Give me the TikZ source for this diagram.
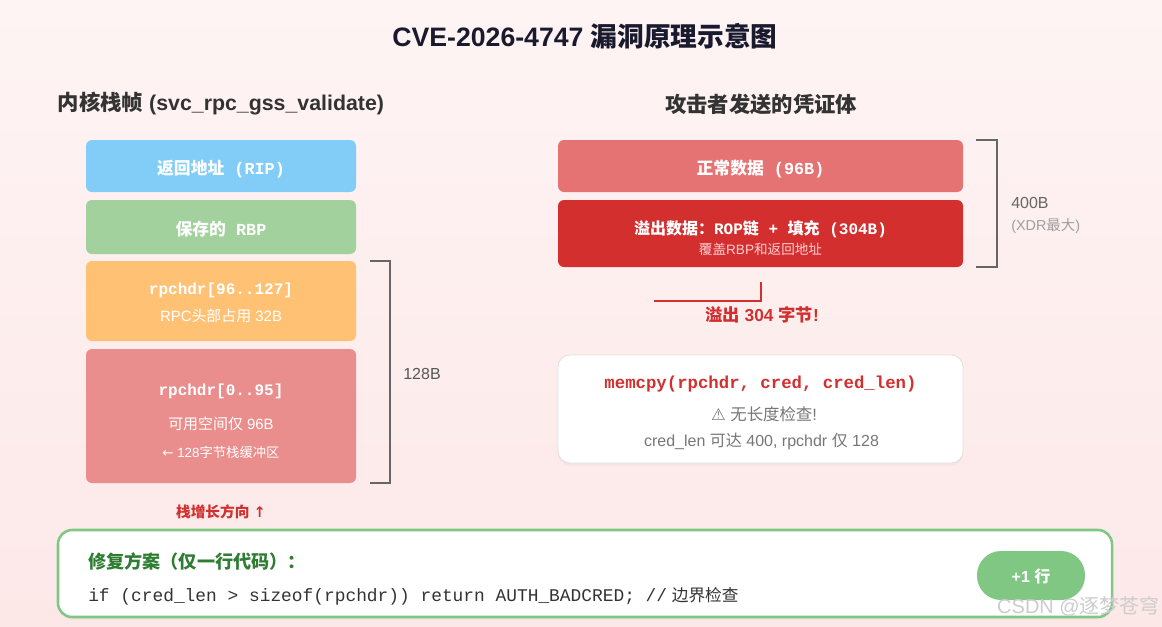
\documentclass[tikz,border=0pt]{standalone}
\usepackage{fontspec}
\setmainfont{Liberation Sans}
\setmonofont{Liberation Mono}
\newfontfamily\cjk{Noto Sans CJK SC}
\newfontfamily\symfont{DejaVu Sans}
\newcommand\zh[1]{{\cjk #1}}
\usetikzlibrary{shadows}
\definecolor{bgtop}{HTML}{FEF4F4}
\definecolor{bgbot}{HTML}{FDE8E8}
\definecolor{titlec}{HTML}{1A1A2E}
\definecolor{subc}{HTML}{333333}
\definecolor{cblue}{HTML}{81CDF8}
\definecolor{cgreen}{HTML}{A2D19E}
\definecolor{corange}{HTML}{FFC275}
\definecolor{cpink}{HTML}{E98E8C}
\definecolor{cred3}{HTML}{E57373}
\definecolor{cred7}{HTML}{D32F2F}
\definecolor{cgreenb}{HTML}{81C784}
\definecolor{cgreend}{HTML}{2E7D32}
\definecolor{brkc}{HTML}{666666}
\definecolor{lpink}{HTML}{FFCDD2}
\definecolor{graytxt}{HTML}{777777}
\definecolor{codec}{HTML}{333333}
\tikzset{
  blk/.style={rounded corners=4.5pt, inner sep=0pt, draw=none},
  lbl/.style={inner sep=0pt, text=white},
  brk/.style={draw=brkc, line width=1.5pt},
  fmain/.style={font=\bfseries\fontsize{12.6}{15}\selectfont},
  fsub/.style={font=\fontsize{11.2}{13}\selectfont},
  fsmall/.style={font=\fontsize{10}{12}\selectfont},
}
\begin{document}
\begin{tikzpicture}[x=0.75pt,y=-0.75pt]
\shade[top color=bgtop, bottom color=bgbot] (0,0) rectangle (1162,626);
\useasboundingbox (0,0) rectangle (1162,626);

% titles
\node[inner sep=0pt, text=titlec, font=\bfseries\fontsize{20}{24}\selectfont] (title) at (585,36) {CVE-2026-4747 \zh{漏洞原理示意图}};
\node[inner sep=0pt, text=subc, font=\bfseries\fontsize{16}{19}\selectfont] (subL) at (221,104) {\zh{内核栈帧} (svc\_rpc\_gss\_validate)};
\node[inner sep=0pt, text=subc, font=\bfseries\fontsize{16}{19}\selectfont] (subR) at (761,104) {\zh{攻击者发送的凭证体}};

% left stack
\node[blk, fill=cblue, minimum width=202.5pt, minimum height=39pt] (rip) at (221,166) {};
\node[lbl, fmain] (ripT) at (221,169) {\zh{返回地址}{\ttfamily\ (RIP)}};
\node[blk, fill=cgreen, minimum width=202.5pt, minimum height=40.5pt] (rbp) at (221,227) {};
\node[lbl, fmain] (rbpT) at (221,229) {\zh{保存的}{\ttfamily\ RBP}};
\node[blk, fill=corange, minimum width=202.5pt, minimum height=60pt] (hi) at (221,301) {};
\node[lbl, font=\ttfamily\bfseries\fontsize{12}{14}\selectfont] (hiT) at (221,290) {rpchdr[96..127]};
\node[lbl, fsub] (hiS) at (221,316) {RPC\zh{头部占用} 32B};
\node[blk, fill=cpink, minimum width=202.5pt, minimum height=100.5pt] (lo) at (221,416) {};
\node[lbl, font=\ttfamily\bfseries\fontsize{12}{14}\selectfont] (loT) at (221,391) {rpchdr[0..95]};
\node[lbl, fsub] (loS) at (221,424) {\zh{可用空间仅} 96B};
\node[lbl, fsmall] (loN) at (221,452) {{\symfont ←} 128\zh{字节栈缓冲区}};

\draw[brk] (370,261) -- (390,261) -- (390,483) -- (370,483);
\node[inner sep=0pt, text=brkc!85!black, font=\fontsize{12}{14}\selectfont] (b128) at (422,374) {128B};
\node[inner sep=0pt, text=cred7, font=\bfseries\fontsize{11}{13}\selectfont] (grow) at (221,512) {\zh{栈增长方向} {\symfont ↑}};

% right payload
\node[blk, fill=cred3, minimum width=303.75pt, minimum height=39pt] (norm) at (760.5,166) {};
\node[lbl, fmain] (normT) at (760.5,169) {\zh{正常数据}{\ttfamily\ (96B)}};
\node[blk, fill=cred7, minimum width=303.75pt, minimum height=50.25pt] (over) at (760.5,233.5) {};
\node[lbl, font=\bfseries\fontsize{12}{14}\selectfont] (overT) at (760.5,229) {\zh{溢出数据：}{\ttfamily ROP}\zh{链}{\ttfamily\ + }\zh{填充}{\ttfamily\ (304B)}};
\node[inner sep=0pt, text=lpink, font=\fontsize{10.2}{12}\selectfont] (overS) at (760.5,249) {\zh{覆盖}RBP\zh{和返回地址}};

\draw[brk] (976,140) -- (997,140) -- (997,267) -- (976,267);
\node[inner sep=0pt, anchor=west, text=brkc, font=\fontsize{12}{14}\selectfont] (b400) at (1011,203) {400B};
\node[inner sep=0pt, anchor=west, text=gray!75, font=\fontsize{10.8}{13}\selectfont] (xdr) at (1011,226) {(XDR\zh{最大})};

\coordinate (ovA) at (654,301);
\coordinate (ovB) at (761,282);
\draw[draw=cred7, line width=1.5pt] (ovA) -| (ovB);
\node[inner sep=0pt, text=cred7, font=\bfseries\fontsize{13}{15}\selectfont] (ovL) at (762,315) {\zh{溢出} 304 \zh{字节}!};

% memcpy box
\node[rounded corners=9pt, fill=white, draw=black!12, line width=0.6pt, minimum width=303.75pt, minimum height=81pt, inner sep=0pt,
      drop shadow={shadow xshift=0pt, shadow yshift=-2pt, opacity=0.06}] (mem) at (760.5,409) {};
\node[inner sep=0pt, text=cred7, font=\ttfamily\bfseries\fontsize{13}{15}\selectfont] (memT) at (760.5,384) {memcpy(rpchdr, cred, cred\_len)};
\node[inner sep=0pt, text=graytxt, font=\fontsize{12.3}{14}\selectfont] (memW) at (764,414) {{\symfont ⚠} \zh{无长度检查}!};
\node[inner sep=0pt, text=graytxt, font=\fontsize{12}{14}\selectfont] (memS) at (761.5,441) {cred\_len \zh{可达} 400, rpchdr \zh{仅} 128};

% fix box
\node[rounded corners=10.5pt, fill=white, draw=cgreenb, line width=1.9pt, minimum width=790.5pt, minimum height=65.25pt, inner sep=0pt,
      drop shadow={shadow xshift=0pt, shadow yshift=-2pt, opacity=0.06}] (fix) at (585,573.5) {};
\node[inner sep=0pt, anchor=west, text=cgreend, font=\bfseries\fontsize{13.6}{16}\selectfont] (fixT) at (88,562) {\zh{修复方案（仅一行代码）：}};
\node[inner sep=0pt, anchor=west, text=codec, font=\fontsize{12.5}{14}\selectfont] (fixC) at (88,596) {{\ttfamily\fontsize{13.4}{15}\selectfont if (cred\_len > sizeof(rpchdr)) return AUTH\_BADCRED; //} \zh{边界检查}};
\node[rounded corners=18pt, fill=cgreenb, minimum width=81pt, minimum height=36.75pt, inner sep=0pt] (pill) at (1031,575.5) {};
\node[inner sep=0pt, text=white, font=\bfseries\fontsize{12}{14}\selectfont] (pillT) at (1031,576) {+1 \zh{行}};

% watermark
\node[inner sep=0pt, anchor=east, text=gray!40, font=\fontsize{15}{18}\selectfont] (wm) at (1160,606) {CSDN @\zh{逐梦苍穹}};
\end{tikzpicture}
\end{document}
